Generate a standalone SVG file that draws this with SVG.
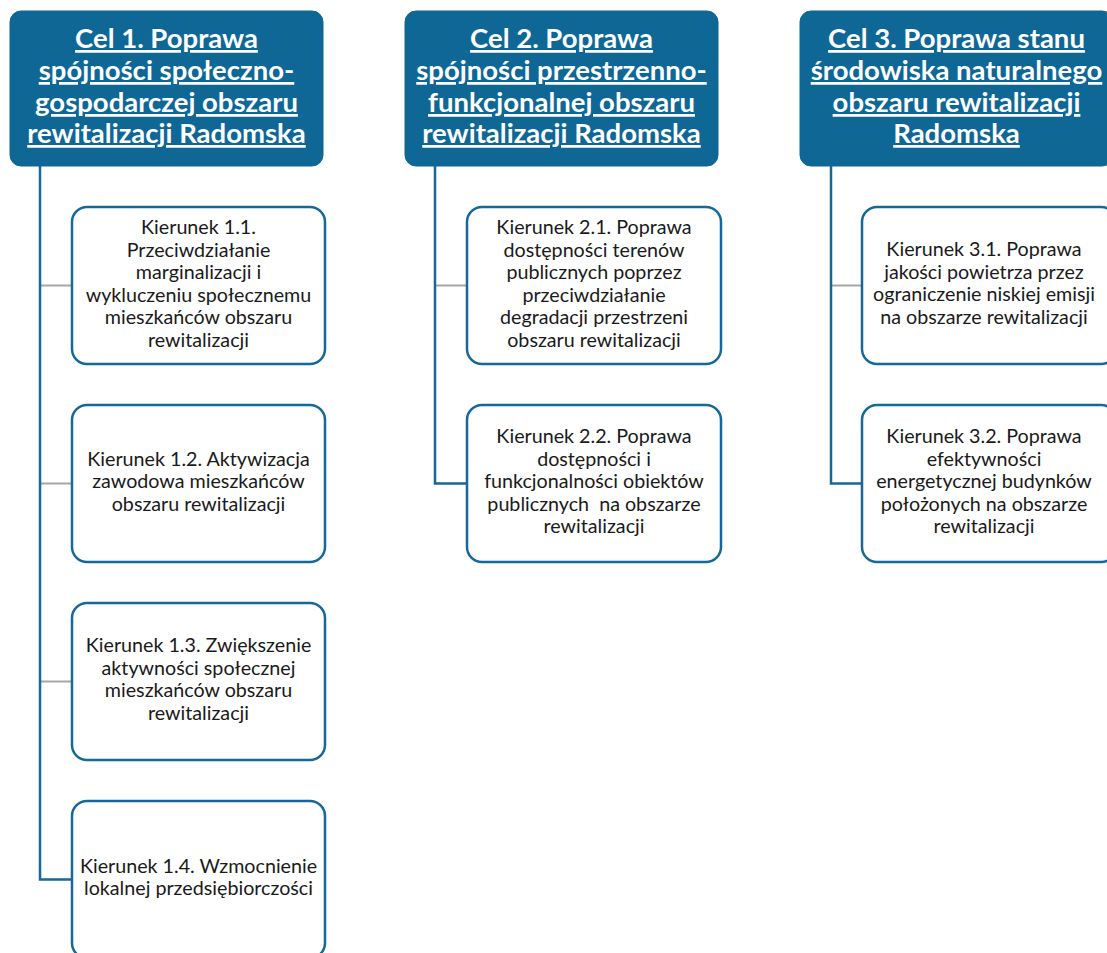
<svg xmlns="http://www.w3.org/2000/svg" width="1107" height="953" viewBox="0 0 1107 953">
<style>
.hdr{fill:#0e6795;stroke:#0e6795;stroke-width:1}
.box{fill:#ffffff;stroke:#15699a;stroke-width:2.5}
.ht{font-family:Lato,"Liberation Sans",sans-serif;font-weight:bold;font-size:27.5px;fill:#ffffff;text-anchor:middle;text-decoration:underline}
.bt{font-family:Lato,"Liberation Sans",sans-serif;font-size:19.7px;fill:#1a1a1a;text-anchor:middle;white-space:pre}
.vl{fill:none;stroke:#15699a;stroke-width:2.5}
.gl{fill:none;stroke:#a6a6a6;stroke-width:2}
</style>
<rect width="1107" height="953" fill="#ffffff"/>
<g id="connectors">
<line class="gl" x1="40" y1="285.5" x2="72" y2="285.5"/>
<line class="gl" x1="40" y1="483.5" x2="72" y2="483.5"/>
<line class="gl" x1="40" y1="681.5" x2="72" y2="681.5"/>
<line class="gl" x1="435" y1="285.5" x2="467" y2="285.5"/>
<line class="gl" x1="831" y1="285.5" x2="862" y2="285.5"/>
<polyline class="vl" points="40,166 40,879.5 72,879.5"/>
<polyline class="vl" points="435,166 435,483.5 467,483.5"/>
<polyline class="vl" points="831,166 831,483.5 862,483.5"/>
</g>
<g id="cel1">
<rect class="hdr" x="10" y="11" width="313" height="155" rx="11"/>
<text class="ht" x="166.5" y="48">Cel 1. Poprawa</text>
<text class="ht" x="166.5" y="80">spójności społeczno-</text>
<text class="ht" x="166.5" y="112">gospodarczej obszaru</text>
<text class="ht" x="166.5" y="143">rewitalizacji Radomska</text>
</g>
<g id="cel2">
<rect class="hdr" x="405" y="11" width="313" height="155" rx="11"/>
<text class="ht" x="561.5" y="48">Cel 2. Poprawa</text>
<text class="ht" x="561.5" y="80">spójności przestrzenno-</text>
<text class="ht" x="561.5" y="112">funkcjonalnej obszaru</text>
<text class="ht" x="561.5" y="143">rewitalizacji Radomska</text>
</g>
<g id="cel3">
<rect class="hdr" x="800" y="11" width="313" height="155" rx="11"/>
<text class="ht" x="956.5" y="48">Cel 3. Poprawa stanu</text>
<text class="ht" x="956.5" y="80">środowiska naturalnego</text>
<text class="ht" x="956.5" y="112">obszaru rewitalizacji</text>
<text class="ht" x="956.5" y="143">Radomska</text>
</g>
<g id="k11">
<rect class="box" x="72" y="207" width="253" height="157" rx="15"/>
<text class="bt" x="198.5" y="234">Kierunek 1.1.</text>
<text class="bt" x="198.5" y="256.5">Przeciwdziałanie</text>
<text class="bt" x="198.5" y="279">marginalizacji i</text>
<text class="bt" x="198.5" y="301.5">wykluczeniu społecznemu</text>
<text class="bt" x="198.5" y="324">mieszkańców obszaru</text>
<text class="bt" x="198.5" y="346.5">rewitalizacji</text>
</g>
<g id="k12">
<rect class="box" x="72" y="405" width="253" height="157" rx="15"/>
<text class="bt" x="198.5" y="465.5">Kierunek 1.2. Aktywizacja</text>
<text class="bt" x="198.5" y="488">zawodowa mieszkańców</text>
<text class="bt" x="198.5" y="510.5">obszaru rewitalizacji</text>
</g>
<g id="k13">
<rect class="box" x="72" y="603" width="253" height="157" rx="15"/>
<text class="bt" x="198.5" y="652.25">Kierunek 1.3. Zwiększenie</text>
<text class="bt" x="198.5" y="674.75">aktywności społecznej</text>
<text class="bt" x="198.5" y="697.25">mieszkańców obszaru</text>
<text class="bt" x="198.5" y="719.75">rewitalizacji</text>
</g>
<g id="k14">
<rect class="box" x="72" y="801" width="253" height="157" rx="15"/>
<text class="bt" x="198.5" y="872.75">Kierunek 1.4. Wzmocnienie</text>
<text class="bt" x="198.5" y="895.25">lokalnej przedsiębiorczości</text>
</g>
<g id="k21">
<rect class="box" x="467" y="207" width="254" height="157" rx="15"/>
<text class="bt" x="594" y="234">Kierunek 2.1. Poprawa</text>
<text class="bt" x="594" y="256.5">dostępności terenów</text>
<text class="bt" x="594" y="279">publicznych poprzez</text>
<text class="bt" x="594" y="301.5">przeciwdziałanie</text>
<text class="bt" x="594" y="324">degradacji przestrzeni</text>
<text class="bt" x="594" y="346.5">obszaru rewitalizacji</text>
</g>
<g id="k22">
<rect class="box" x="467" y="405" width="254" height="157" rx="15"/>
<text class="bt" x="594" y="443">Kierunek 2.2. Poprawa</text>
<text class="bt" x="594" y="465.5">dostępności i</text>
<text class="bt" x="594" y="488">funkcjonalności obiektów</text>
<text class="bt" x="594" y="510.5" xml:space="preserve">publicznych  na obszarze</text>
<text class="bt" x="594" y="533">rewitalizacji</text>
</g>
<g id="k31">
<rect class="box" x="862" y="207" width="254" height="157" rx="15"/>
<text class="bt" x="984" y="256.25">Kierunek 3.1. Poprawa</text>
<text class="bt" x="984" y="278.75">jakości powietrza przez</text>
<text class="bt" x="984" y="301.25">ograniczenie niskiej emisji</text>
<text class="bt" x="984" y="323.75">na obszarze rewitalizacji</text>
</g>
<g id="k32">
<rect class="box" x="862" y="405" width="254" height="157" rx="15"/>
<text class="bt" x="984" y="443">Kierunek 3.2. Poprawa</text>
<text class="bt" x="984" y="465.5">efektywności</text>
<text class="bt" x="984" y="488">energetycznej budynków</text>
<text class="bt" x="984" y="510.5">położonych na obszarze</text>
<text class="bt" x="984" y="533">rewitalizacji</text>
</g>
</svg>
